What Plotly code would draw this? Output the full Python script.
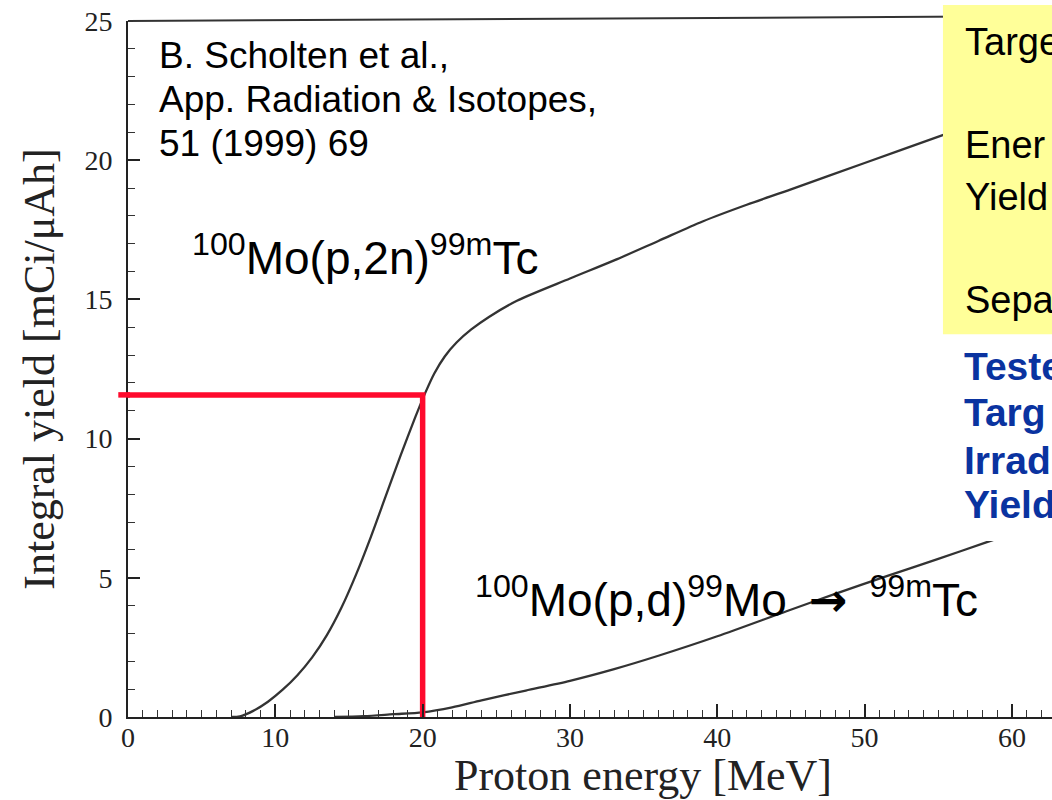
import plotly.graph_objects as go

# ---- data ----
# 100Mo(p,2n)99mTc integral yield [mCi/uAh] vs proton energy [MeV]
energy_2n = [7.0, 7.6, 8.5, 9.5, 10.5, 11.5, 12.5, 13.5, 14.5, 15.5, 16.5, 17.5,
             18.5, 19.5, 20.2, 20.8, 21.5, 22.3, 23.3, 24.5, 26.4, 30.0, 33.0,
             36.0, 39.0, 42.0, 45.0, 50.0, 55.3, 57.0]
yield_2n = [0.0, 0.02, 0.22, 0.55, 0.98, 1.5, 2.14, 2.94, 3.94, 5.14, 6.49, 7.94,
            9.39, 10.77, 11.67, 12.35, 12.95, 13.45, 13.92, 14.37, 14.95, 15.75,
            16.4, 17.1, 17.8, 18.4, 18.95, 19.9, 20.9, 21.2]

# 100Mo(p,d)99Mo -> 99mTc
energy_pd = [14.0, 16.0, 18.0, 20.0, 22.0, 24.0, 27.0, 30.0, 33.0, 36.0, 40.0,
             44.7, 48.0, 51.5, 55.0, 58.3, 59.5]
yield_pd = [0.0, 0.03, 0.1, 0.17, 0.35, 0.6, 0.95, 1.3, 1.72, 2.2, 2.9,
            3.8, 4.42, 5.06, 5.68, 6.28, 6.5]

# red reading marker
mark_energy = 20.0
mark_yield = 11.57

x_ticks = [0, 10, 20, 30, 40, 50, 60]
y_ticks = [0, 5, 10, 15, 20, 25]
x_max = 62.72
y_max = 25

SERIF = "Liberation Serif, Times New Roman, serif"
SANS = "Liberation Sans, Arial, sans-serif"
RED = "#ff0a2d"
BLUE = "#0a33a0"
INK = "#222222"

fig = go.Figure()

fig.add_trace(go.Scatter(
    x=energy_2n, y=yield_2n, mode="lines", name="100Mo(p,2n)99mTc",
    line=dict(color="#333333", width=2.3, shape="spline", smoothing=0.8),
    showlegend=False, hoverinfo="skip"))
fig.add_trace(go.Scatter(
    x=energy_pd, y=yield_pd, mode="lines", name="100Mo(p,d)99Mo",
    line=dict(color="#333333", width=2.3, shape="spline", smoothing=0.8),
    showlegend=False, hoverinfo="skip"))

# red L-shaped reading lines
fig.add_trace(go.Scatter(
    x=[0, mark_energy, mark_energy], y=[mark_yield, mark_yield, 0],
    mode="lines", line=dict(color=RED, width=5.5), showlegend=False,
    hoverinfo="skip"))

shapes = [
    # top frame line
    dict(type="line", xref="paper", yref="paper", x0=0, x1=1, y0=1.0, y1=1.007,
         line=dict(color="#333", width=2), layer="above"),
    # small stub of red line left of the axis
    dict(type="line", xref="paper", yref="y", x0=-0.0105, x1=0.002,
         y0=mark_yield, y1=mark_yield, line=dict(color=RED, width=5.5),
         layer="above"),
    # yellow box
    dict(type="rect", xref="paper", yref="paper", x0=0.882, x1=1.02,
         y0=0.550, y1=1.023, fillcolor="#ffff99", line=dict(width=0),
         layer="above"),
    # white box behind blue text
    dict(type="rect", xref="paper", yref="paper", x0=0.892, x1=1.02,
         y0=0.253, y1=0.547, fillcolor="white", line=dict(width=0),
         layer="above"),
]

ann = []


def txt(s, x, y, size, color="black", family=SANS, xanchor="left", **kw):
    ann.append(dict(text=s, x=x, y=y, xref="paper", yref="paper",
                    xanchor=xanchor, yanchor="middle", showarrow=False,
                    font=dict(family=family, size=size, color=color), **kw))


txt("B. Scholten et al.,", 0.0314, 0.951, 37)
txt("App. Radiation &amp; Isotopes,", 0.0314, 0.8865, 37)
txt("51 (1999) 69", 0.0314, 0.8247, 37)

ARROW = ("<span style=\"font-family:'DejaVu Sans';font-weight:bold\">"
         "\u2192</span>")
txt("<sup>100</sup>Mo(p,2n)<sup>99m</sup>Tc", 0.0671, 0.664, 46)
txt("<sup>100</sup>Mo(p,d)<sup>99</sup>Mo \u2009" + ARROW + "\u2009 <sup>99m</sup>Tc",
    0.3734, 0.172, 46)

txt("Targe", 0.9037, 0.970, 38)
txt("Ener", 0.9037, 0.822, 38)
txt("Yield", 0.9037, 0.747, 38)
txt("Sepa", 0.9037, 0.599, 38)

txt("<b>Teste</b>", 0.9026, 0.504, 39, color=BLUE)
txt("<b>Targ</b>", 0.9026, 0.437, 39, color=BLUE)
txt("<b>Irrad</b>", 0.9026, 0.369, 39, color=BLUE)
txt("<b>Yield</b>", 0.9026, 0.305, 39, color=BLUE)

# x axis title (placed off-centre as in the reference)
txt("Proton energy [MeV]", 0.5574, -0.0845, 44, color=INK, family=SERIF,
    xanchor="center")

fig.update_layout(
    width=1052, height=800,
    margin=dict(l=128, r=0, t=21, b=83, autoexpand=False),
    paper_bgcolor="white", plot_bgcolor="white",
    shapes=shapes, annotations=ann,
    xaxis=dict(
        range=[0, x_max], tickvals=x_ticks, showline=True, linecolor=INK,
        linewidth=2, ticks="inside", ticklen=13, tickwidth=1.8, tickcolor=INK,
        minor=dict(ticks="inside", dtick=1, tick0=0, ticklen=7, tickwidth=1.3,
                   tickcolor="#333", showgrid=False),
        showgrid=False, zeroline=False, ticklabelstandoff=-6,
        tickfont=dict(family=SERIF, size=28, color=INK)),
    yaxis=dict(
        range=[0, y_max], tickvals=y_ticks, showline=True, linecolor=INK,
        linewidth=2, ticks="inside", ticklen=12, tickwidth=1.8, tickcolor=INK,
        minor=dict(ticks="inside", dtick=1, tick0=0, ticklen=7, tickwidth=1.3,
                   tickcolor="#333", showgrid=False),
        showgrid=False, zeroline=False, ticklabelstandoff=8,
        tickfont=dict(family=SERIF, size=28, color=INK),
        title=dict(text="Integral yield [mCi/\u03bcAh]", standoff=16,
                   font=dict(family=SERIF, size=44, color=INK))),
)

fig.write_html("out.html", config={"displayModeBar": False},
               post_script="document.body.style.margin='0px';")
